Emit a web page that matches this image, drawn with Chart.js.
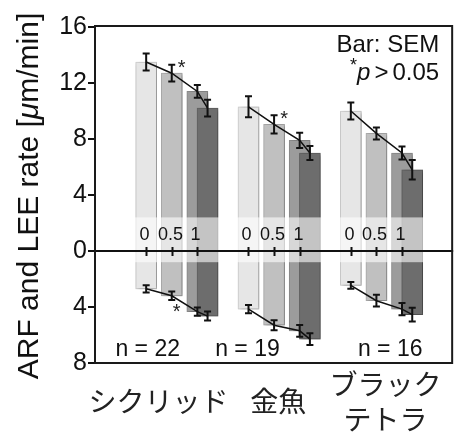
<!DOCTYPE html>
<html><head><meta charset="utf-8">
<script src="https://cdn.jsdelivr.net/npm/chart.js@4"></script>
<style>html,body{margin:0;padding:0;background:#fff;} canvas{display:block}</style>
</head><body>
<canvas id="c" width="463" height="435"></canvas>
<script>
// ---------- data ----------
const categories = ['シクリッド', '金魚', ['ブラック', 'テトラ']];
const nLabels = ['n = 22', 'n = 19', 'n = 16'];
const concTickLabels = ['0', '0.5', '1'];
const concentrations = [0, 0.5, 1, 1.2];   // position of each bar within a group (axis units)
const groupOffsets = [0, 2, 4];            // start of each group on the x axis
const yTickValues = [-8, -4, 0, 4, 8, 12, 16];

// ARF rate (upward bars): mean and SEM for concentration 0, 0.5, 1, 4th
const arfCichlid  = [13.5, 12.7, 11.4, 10.2];
const arfGoldfish = [10.3, 9.05, 7.9, 7.0];
const arfTetra    = [10.0, 8.4, 7.0, 5.8];
const arfSemCichlid  = [0.6, 0.6, 0.45, 0.6];
const arfSemGoldfish = [0.75, 0.65, 0.55, 0.5];
const arfSemTetra    = [0.6, 0.43, 0.46, 0.7];

// LEE rate (downward bars): mean and SEM
const leeCichlid  = [2.7, 3.2, 4.33, 4.65];
const leeGoldfish = [4.15, 5.3, 5.7, 6.3];
const leeTetra    = [2.45, 3.55, 4.15, 4.55];
const leeSemCichlid  = [0.26, 0.3, 0.3, 0.32];
const leeSemGoldfish = [0.3, 0.36, 0.42, 0.42];
const leeSemTetra    = [0.24, 0.42, 0.44, 0.49];

// significance marks: [group, bar, side]
const asterisks = [[0, 1, 'top'], [1, 1, 'top'], [0, 1, 'bottom']];

// ---------- build ----------
const arf = [arfCichlid, arfGoldfish, arfTetra];
const arfSem = [arfSemCichlid, arfSemGoldfish, arfSemTetra];
const lee = [leeCichlid, leeGoldfish, leeTetra];
const leeSem = [leeSemCichlid, leeSemGoldfish, leeSemTetra];

const barColors = ['#e6e6e6', '#c0c0c0', '#9c9c9c', '#6d6d6d'];
const barBorders = ['#d0d0d0', '#acacac', '#8c8c8c', '#626262'];
const catTickShift = [0.24, 0.58, 0.68];
const nLabelShift = [0.03, -0.02, 0.77];

const LATIN = '"Liberation Sans", Arial, Helvetica, sans-serif';
const CJK = '"Noto Sans CJK JP", sans-serif';

const datasets = [];
concentrations.forEach((c, ci) => {
  datasets.push({
    type: 'bar',
    order: 10 - ci,
    grouped: false,
    barThickness: 21,
    backgroundColor: barColors[ci],
    borderColor: barBorders[ci],
    borderWidth: 1,
    borderSkipped: false,
    data: groupOffsets.map((g, gi) => ({ x: g + c, y: [-lee[gi][ci], arf[gi][ci]] }))
  });
});
function linePoints(src, sign) {
  const pts = [];
  groupOffsets.forEach((g, gi) => {
    concentrations.forEach((c, ci) => pts.push({ x: g + c, y: sign * src[gi][ci] }));
    pts.push({ x: g + 1.6, y: null });
  });
  return pts;
}
datasets.push({ type: 'line', order: 0, data: linePoints(arf, 1), borderColor: '#111', borderWidth: 1.5, pointRadius: 0, spanGaps: false, fill: false });
datasets.push({ type: 'line', order: 0, data: linePoints(lee, -1), borderColor: '#111', borderWidth: 1.5, pointRadius: 0, spanGaps: false, fill: false });

const shadowPlugin = {
  id: 'shadow',
  beforeDatasetDraw(chart, args) {
    if (chart.data.datasets[args.index].type === 'bar') {
      const ctx = chart.ctx;
      ctx.save();
      ctx.shadowColor = 'rgba(0,0,0,0.35)';
      ctx.shadowBlur = 4;
      ctx.shadowOffsetX = 2;
      ctx.shadowOffsetY = 1;
    }
  },
  afterDatasetDraw(chart, args) {
    if (chart.data.datasets[args.index].type === 'bar') chart.ctx.restore();
  }
};

const overlayPlugin = {
  id: 'overlay',
  afterDatasetsDraw(chart) {
    const ctx = chart.ctx, xs = chart.scales.x, ys = chart.scales.y, a = chart.chartArea;
    ctx.save();
    // translucent band around zero
    const bTop = ys.getPixelForValue(2.4), bBot = ys.getPixelForValue(-0.8);
    ctx.fillStyle = 'rgba(255,255,255,0.6)';
    ctx.fillRect(a.left, bTop, a.right - a.left, bBot - bTop);
    // zero line
    const y0 = ys.getPixelForValue(0);
    ctx.strokeStyle = '#111'; ctx.lineWidth = 2;
    ctx.beginPath(); ctx.moveTo(a.left, y0); ctx.lineTo(a.right, y0); ctx.stroke();
    // concentration ticks and labels
    ctx.fillStyle = '#111';
    ctx.font = '18px ' + LATIN;
    ctx.textAlign = 'center'; ctx.textBaseline = 'middle';
    groupOffsets.forEach(g => {
      concTickLabels.forEach((lab, ci) => {
        const px = Math.round(xs.getPixelForValue(g + concentrations[ci])) + 0.5;
        ctx.lineWidth = 2;
        ctx.beginPath(); ctx.moveTo(px, y0 - 4); ctx.lineTo(px, y0 + 5); ctx.stroke();
        ctx.fillText(lab, px - 2, y0 - 16);
      });
    });
    // error bars
    ctx.lineWidth = 2; ctx.strokeStyle = '#111';
    const cap = 3.5;
    function ebar(px, v, s) {
      const p1 = ys.getPixelForValue(v + s), p2 = ys.getPixelForValue(v - s);
      ctx.beginPath();
      ctx.moveTo(px, p1); ctx.lineTo(px, p2);
      ctx.moveTo(px - cap, p1); ctx.lineTo(px + cap, p1);
      ctx.moveTo(px - cap, p2); ctx.lineTo(px + cap, p2);
      ctx.stroke();
    }
    groupOffsets.forEach((g, gi) => {
      concentrations.forEach((c, ci) => {
        const px = xs.getPixelForValue(g + c);
        ebar(px, arf[gi][ci], arfSem[gi][ci]);
        ebar(px, -lee[gi][ci], leeSem[gi][ci]);
      });
    });
    // asterisks
    ctx.font = '20px ' + LATIN;
    ctx.fillStyle = '#222';
    asterisks.forEach(([gi, ci, side]) => {
      const px = xs.getPixelForValue(groupOffsets[gi] + concentrations[ci]);
      if (side === 'top') {
        const py = ys.getPixelForValue(arf[gi][ci] + arfSem[gi][ci]);
        ctx.fillText('*', px + 10, py + 4);
      } else {
        const py = ys.getPixelForValue(-lee[gi][ci] - leeSem[gi][ci]);
        ctx.fillText('*', px + 5, py + 12);
      }
    });
    // n labels
    ctx.font = '23px ' + LATIN;
    ctx.fillStyle = '#111';
    nLabels.forEach((t, gi) => {
      ctx.fillText(t, xs.getPixelForValue(groupOffsets[gi] + nLabelShift[gi]), a.bottom - 13);
    });
    // frame
    ctx.lineWidth = 2; ctx.strokeStyle = '#1a1a1a';
    ctx.strokeRect(a.left, a.top - 1, a.right - a.left - 1, a.bottom - a.top + 1);
    ctx.restore();
  },
  afterDraw(chart) {
    const ctx = chart.ctx, a = chart.chartArea;
    ctx.save();
    ctx.fillStyle = '#111';
    ctx.textBaseline = 'middle';
    // legend-like note
    ctx.textAlign = 'right';
    ctx.font = '24px ' + LATIN;
    const rx = a.right - 14;
    ctx.fillText('Bar: SEM', rx, 45);
    ctx.fillText('0.05', rx, 73);
    let x = rx - ctx.measureText('0.05').width - 4;
    ctx.fillText('>', x, 73);
    x -= ctx.measureText('>').width + 4;
    ctx.font = 'italic 24px ' + LATIN;
    ctx.fillText('p', x, 73);
    x -= ctx.measureText('p').width;
    ctx.font = '18px ' + LATIN;
    ctx.fillText('*', x, 66);
    // y axis title
    ctx.translate(30, 196);
    ctx.rotate(-Math.PI / 2);
    const parts = [['ARF and LEE rate [', '30px ' + LATIN], ['\u03bc', 'italic 30px ' + LATIN], ['m/min]', '30px ' + LATIN]];
    let total = 0;
    parts.forEach(p => { ctx.font = p[1]; total += ctx.measureText(p[0]).width; });
    let cx = -total / 2;
    ctx.textAlign = 'left';
    parts.forEach(p => { ctx.font = p[1]; ctx.fillText(p[0], cx, 0); cx += ctx.measureText(p[0]).width; });
    ctx.restore();
  }
};

new Chart(document.getElementById('c'), {
  data: { datasets },
  options: {
    responsive: false,
    animation: false,
    devicePixelRatio: 1,
    layout: { padding: { top: 27, right: 2, left: 0, bottom: 0 } },
    plugins: { legend: { display: false }, tooltip: { enabled: false } },
    scales: {
      x: {
        type: 'linear', min: -1, max: 6, offset: false,
        grid: { display: false, drawTicks: false, offset: false },
        border: { display: false },
        afterBuildTicks(s) { s.ticks = groupOffsets.map((g, i) => ({ value: g + catTickShift[i] })); },
        afterFit(s) { s.height = 72; },
        ticks: {
          autoSkip: false, maxRotation: 0, minRotation: 0,
          crossAlign: 'center', padding: 21,
          color: '#222',
          font: { family: CJK, size: 28, lineHeight: 1.25 },
          callback: (v, i) => categories[i]
        }
      },
      y: {
        type: 'linear', min: -8, max: 16,
        afterBuildTicks(s) { s.ticks = yTickValues.map(v => ({ value: v })); },
        afterFit(s) { s.width = 95; },
        grid: { drawOnChartArea: false, drawTicks: true, tickLength: 7, color: '#111', lineWidth: 2 },
        border: { display: true, color: '#111', width: 2 },
        ticks: { padding: 1, color: '#111', font: { family: LATIN, size: 25 }, callback: v => String(Math.abs(v)) }
      }
    }
  },
  plugins: [shadowPlugin, overlayPlugin]
});
</script>
</body></html>
